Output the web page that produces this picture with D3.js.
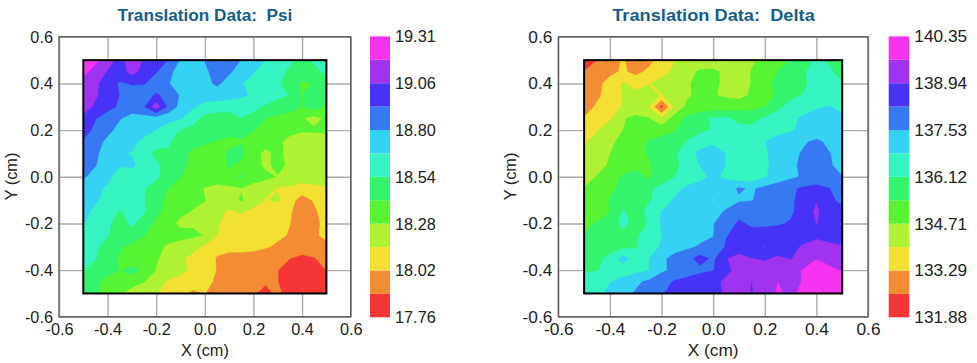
<!DOCTYPE html>
<html><head><meta charset="utf-8">
<script src="https://cdn.jsdelivr.net/npm/d3@7/dist/d3.min.js"></script>
<style>
html,body{margin:0;padding:0;background:#fff}
svg{display:block}
text{font-family:"Liberation Sans",Arial,sans-serif}
</style></head><body>
<svg id="c" width="977" height="363"></svg>
<script>
const axisTicks=[-0.6,-0.4,-0.2,0,0.2,0.4,0.6];
const palette=["#f53636","#f38c34","#f2e033","#aef233","#56f433","#34f36c","#35f4c2","#36d2f3","#3679f2","#4633f5","#a033f0","#f533f0"];
const psiLabels=["19.31","19.06","18.80","18.54","18.28","18.02","17.76"];
const deltaLabels=["140.35","138.94","137.53","136.12","134.71","133.29","131.88"];
const psiRange=[17.76,19.31];
const deltaRange=[131.88,140.35];
const psiRows=[
[19.30,19.21,19.115,19.00,19.13,19.04,18.99,18.92,18.78,18.72,18.80,18.87,18.85,18.79,18.72,18.66,18.60,18.55,18.50,18.55,18.60],
[19.22,19.13,19.04,18.98,19.10,19.00,18.93,18.82,18.75,18.72,18.76,18.86,18.81,18.74,18.67,18.62,18.56,18.52,18.47,18.50,18.56],
[19.12,19.08,18.98,18.91,18.93,18.93,18.86,18.80,18.74,18.70,18.75,18.82,18.74,18.67,18.63,18.59,18.55,18.48,18.39,18.41,18.46],
[19.12,19.07,18.98,18.92,18.87,18.86,18.94,18.88,18.78,18.74,18.72,18.71,18.70,18.68,18.65,18.60,18.56,18.53,18.40,18.47,18.48],
[19.11,19.03,18.97,18.90,18.85,18.91,19.13,18.89,18.75,18.68,18.62,18.62,18.61,18.60,18.56,18.52,18.49,18.47,18.40,18.46,18.38],
[19.02,18.93,18.85,18.80,18.75,18.74,18.73,18.70,18.67,18.60,18.49,18.44,18.44,18.53,18.50,18.41,18.36,18.33,18.29,18.22,18.31],
[19.00,18.88,18.82,18.76,18.73,18.70,18.66,18.60,18.53,18.49,18.47,18.45,18.44,18.42,18.41,18.37,18.34,18.31,18.29,18.30,18.29],
[18.90,18.83,18.77,18.73,18.69,18.64,18.60,18.55,18.47,18.44,18.42,18.40,18.38,18.40,18.38,18.33,18.30,18.24,18.21,18.19,18.24],
[18.88,18.82,18.72,18.67,18.66,18.58,18.50,18.52,18.45,18.38,18.36,18.37,18.42,18.43,18.33,18.24,18.32,18.22,18.19,18.18,18.27],
[18.87,18.80,18.72,18.67,18.68,18.62,18.56,18.48,18.43,18.38,18.35,18.37,18.41,18.39,18.33,18.25,18.31,18.25,18.20,18.20,18.18],
[18.81,18.74,18.69,18.62,18.62,18.65,18.56,18.47,18.41,18.38,18.35,18.36,18.40,18.41,18.36,18.31,18.27,18.25,18.22,18.20,18.18],
[18.73,18.69,18.65,18.60,18.56,18.54,18.48,18.40,18.35,18.31,18.27,18.23,18.24,18.27,18.21,18.18,18.14,18.12,18.08,18.12,18.14],
[18.72,18.68,18.62,18.60,18.56,18.54,18.46,18.37,18.31,18.30,18.28,18.22,18.22,18.29,18.20,18.14,18.17,18.06,17.97,18.03,18.08],
[18.70,18.63,18.60,18.52,18.58,18.55,18.44,18.36,18.30,18.27,18.25,18.18,18.13,18.16,18.12,18.08,18.05,18.03,17.96,18.00,18.07],
[18.67,18.61,18.56,18.48,18.56,18.47,18.38,18.32,18.25,18.26,18.23,18.16,18.10,18.09,18.07,18.06,18.04,18.02,17.96,17.98,18.06],
[18.62,18.58,18.54,18.48,18.47,18.41,18.36,18.34,18.32,18.30,18.27,18.15,18.10,18.09,18.08,18.06,18.04,18.01,17.96,18.00,18.05],
[18.58,18.55,18.50,18.42,18.38,18.36,18.32,18.25,18.22,18.20,18.12,18.09,18.06,18.07,18.06,18.03,18.00,17.97,17.95,17.97,17.98],
[18.56,18.54,18.47,18.39,18.32,18.30,18.29,18.23,18.18,18.10,18.14,18.00,17.97,17.96,17.95,17.94,17.93,17.89,17.86,17.88,17.95],
[18.54,18.49,18.46,18.40,18.45,18.38,18.27,18.23,18.20,18.10,18.13,18.01,17.96,17.95,17.94,17.92,17.89,17.86,17.83,17.87,17.89],
[18.47,18.44,18.36,18.28,18.33,18.28,18.20,18.13,18.07,18.06,18.05,18.00,17.97,17.96,17.93,17.90,17.89,17.86,17.82,17.81,17.80],
[18.45,18.42,18.36,18.29,18.22,18.20,18.16,18.08,18.04,18.00,18.02,17.99,17.96,17.94,17.90,17.86,17.91,17.85,17.81,17.80,17.78]
];
const deltaRows=[
[132.1,132.6,132.95,133.35,133.0,133.05,133.6,133.98,134.3,134.3,134.1,133.9,134.2,134.6,134.9,135.2,135.45,135.8,136.2,136.0,135.7],
[132.6,132.85,133.1,133.4,133.1,133.45,133.8,134.1,134.5,134.8,134.9,134.5,134.3,134.75,135.1,135.4,135.75,136.05,136.4,136.3,135.7],
[132.75,133.05,133.6,134.05,133.75,133.95,134.2,134.45,134.65,134.85,134.85,134.55,134.2,134.75,135.2,135.6,135.8,136.0,136.4,136.6,136.2],
[132.85,133.15,133.6,134.0,134.2,134.3,133.95,134.3,134.6,134.9,134.75,134.6,134.5,134.8,135.2,135.5,135.95,136.15,136.4,136.55,136.6],
[132.95,133.4,133.75,134.05,134.3,134.0,132.35,134.1,134.9,135.0,135.0,135.05,135.1,135.2,135.4,135.95,136.35,136.6,136.75,136.85,136.65],
[133.35,133.6,133.9,134.65,134.85,134.75,134.1,135.0,135.55,135.9,136.2,136.2,136.0,135.95,136.2,136.45,136.7,136.9,137.1,137.1,136.95],
[133.55,133.95,134.4,134.7,135.0,135.05,135.15,135.35,135.75,136.0,136.15,136.3,136.25,136.25,136.45,136.6,136.75,136.95,137.1,137.2,137.25],
[133.95,134.15,134.55,134.9,135.15,135.45,135.65,135.85,136.15,136.5,136.7,136.7,136.75,136.65,136.8,137.1,137.2,137.45,137.65,137.4,137.2],
[134.05,134.25,134.7,135.0,135.25,135.45,135.75,136.0,136.5,137.0,137.1,136.8,136.55,136.5,136.75,137.05,137.35,137.6,137.8,137.55,137.3],
[134.15,134.4,134.8,135.05,135.2,135.35,135.65,135.95,136.4,136.85,137.1,136.8,136.5,136.45,136.7,137.05,137.4,137.65,137.85,137.6,137.3],
[134.3,134.75,135.1,135.5,135.7,135.3,135.7,136.1,136.4,136.65,136.95,136.7,136.4,136.35,136.75,137.15,137.4,137.6,137.75,137.65,137.55],
[134.75,134.9,135.3,135.55,135.75,136.0,136.3,136.6,136.95,137.1,137.15,137.25,137.6,137.45,137.7,137.9,138.1,138.35,138.45,138.25,137.95],
[134.85,135.05,135.45,135.65,135.85,136.05,136.4,136.9,137.15,137.2,136.75,137.25,137.45,137.5,137.75,137.9,138.15,138.4,138.9,138.35,138.1],
[134.95,135.1,135.4,136.2,135.8,136.3,136.85,137.1,137.2,137.2,137.3,137.6,137.95,138.1,137.9,138.22,138.1,138.6,139.05,138.5,138.35],
[135.3,135.45,135.75,136.3,135.9,136.15,136.9,137.1,137.25,137.35,137.5,137.85,138.35,138.1,138.1,138.15,138.3,138.5,138.95,138.8,138.5],
[135.45,135.6,135.8,135.95,136.05,136.3,136.8,137.1,137.25,137.35,137.5,138.2,138.4,138.5,138.55,138.6,138.65,138.7,138.85,138.75,138.55],
[135.6,135.7,135.85,135.95,136.05,136.5,136.9,137.1,137.4,137.6,137.7,138.3,138.5,138.4,138.2,138.55,138.8,139.0,139.1,139.05,139.0],
[135.8,135.95,136.3,137.1,136.45,136.8,137.3,137.85,138.0,138.5,138.1,138.9,139.2,138.95,138.85,139.05,138.9,139.2,139.6,139.4,139.25],
[136.05,136.1,136.2,136.45,136.6,136.8,137.4,137.7,137.85,138.05,138.2,138.85,139.05,139.2,139.25,139.2,139.4,139.7,140.1,139.8,139.6],
[136.3,136.55,136.8,137.05,137.4,137.65,137.95,138.3,138.5,138.7,138.85,139.0,139.2,138.93,139.3,139.65,139.4,139.7,140.1,140.0,139.95],
[136.4,136.65,136.95,137.3,137.6,137.95,138.2,138.35,138.55,138.75,138.85,138.97,139.2,138.9,139.3,139.7,139.55,139.75,140.1,140.1,140.1]
];
const svg=d3.select("#c");
const fmt=s=>d3.format(".1f")(s).replace("\u2212","-");
function panel(id,title,rows,range,labels,L,R,titleX,barL,barR,sx){
  const x=d3.scaleLinear().domain([-0.6,0.6]).range([L,R]);
  const y=d3.scaleLinear().domain([-0.6,0.6]).range([316.8,36.8]);
  const g=svg.append("g");
  const n=rows.length;
  const step=(range[1]-range[0])/palette.length;
  const levels=palette.map((c,i)=>range[0]+i*step);
  const contours=d3.contours().size([n,n]).smooth(true).thresholds(levels)(rows.flat());
  const cx=d3.scaleLinear().domain([0.5,n-0.5]).range([x(-0.5),x(0.5)]);
  const cy=d3.scaleLinear().domain([0.5,n-0.5]).range([y(0.5),y(-0.5)]);
  const path=d3.geoPath(d3.geoTransform({point(a,b){this.stream.point(cx(a),cy(b));}}));
  const clip=id+"clip";
  g.append("clipPath").attr("id",clip).append("rect").attr("x",x(-0.5)).attr("y",y(0.5)).attr("width",x(0.5)-x(-0.5)).attr("height",y(-0.5)-y(0.5));
  const ax=g.append("g").attr("transform",`translate(0,${y(-0.6)})`).call(d3.axisBottom(x).tickValues(axisTicks).tickFormat(fmt).tickSizeInner(-(y(-0.6)-y(0.6))).tickSizeOuter(0).tickPadding(7));
  const ay=g.append("g").attr("transform",`translate(${L},0)`).call(d3.axisLeft(y).tickValues(axisTicks).tickFormat(fmt).tickSizeInner(-(R-L)).tickSizeOuter(0).tickPadding(6));
  [ax,ay].forEach(a=>{a.selectAll(".tick line").attr("stroke","#ababab").attr("stroke-width",1.4);
    a.select(".domain").remove();
    a.selectAll("text").attr("font-size",16.3).attr("fill","#222").attr("font-family",'"Liberation Sans",Arial,sans-serif');});
  g.append("rect").attr("x",L).attr("y",y(0.6)).attr("width",R-L).attr("height",y(-0.6)-y(0.6)).attr("fill","none").attr("stroke","#555").attr("stroke-width",1.3);
  g.append("g").attr("clip-path",`url(#${clip})`).selectAll("path").data(contours).join("path")
    .attr("d",path).attr("fill",(d,i)=>palette[i]).attr("stroke",(d,i)=>palette[i]).attr("stroke-width",0.4);
  g.append("rect").attr("x",x(-0.5)).attr("y",y(0.5)).attr("width",x(0.5)-x(-0.5)).attr("height",y(-0.5)-y(0.5)).attr("fill","none").attr("stroke","#000").attr("stroke-width",2);
  g.append("text").attr("x",titleX).attr("y",21).attr("text-anchor","middle").attr("font-size",17.2).attr("font-weight","bold").attr("fill","#135f8b").style("white-space","pre").text(title);
  g.append("text").attr("x",(x(-0.6)+x(0.6))/2).attr("y",356).attr("text-anchor","middle").attr("font-size",16.3).attr("fill","#222").text("X (cm)");
  const bs=d3.scaleLinear().domain(range).range([317.3,36.4]);
  g.append("g").selectAll("rect").data(palette).join("rect").attr("x",barL).attr("width",barR-barL)
    .attr("y",(c,i)=>bs(levels[i]+step)).attr("height",(c,i)=>bs(levels[i])-bs(levels[i]+step)).attr("fill",c=>c);
  const ls=d3.scaleLinear().domain([0,labels.length-1]).range([36.4,317.3]);
  g.append("g").selectAll("text").data(labels).join("text").attr("x",barR+5).attr("y",(d,i)=>ls(i)+6).attr("font-size",16.3).attr("fill","#222").text(d=>d);
  // the panel's lettering is stretched sideways together with its plot
  g.selectAll("text").each(function(){const t=+this.getAttribute("x")||0;
    this.setAttribute("transform",`translate(${t*(1-sx)},0) scale(${sx},1)`);});
  g.append("text").attr("transform",`translate(${L-42},176.5) scale(${sx},1) rotate(-90)`).attr("text-anchor","middle").attr("font-size",16.3).attr("fill","#222").text("Y (cm)");
}
panel("psi","Translation Data:  Psi",psiRows,psiRange,psiLabels,59,350.7,205,370,390,1);
panel("delta","Translation Data:  Delta",deltaRows,deltaRange,deltaLabels,558.3,868,713.5,888.7,909.3,1.06);
</script></body></html>
